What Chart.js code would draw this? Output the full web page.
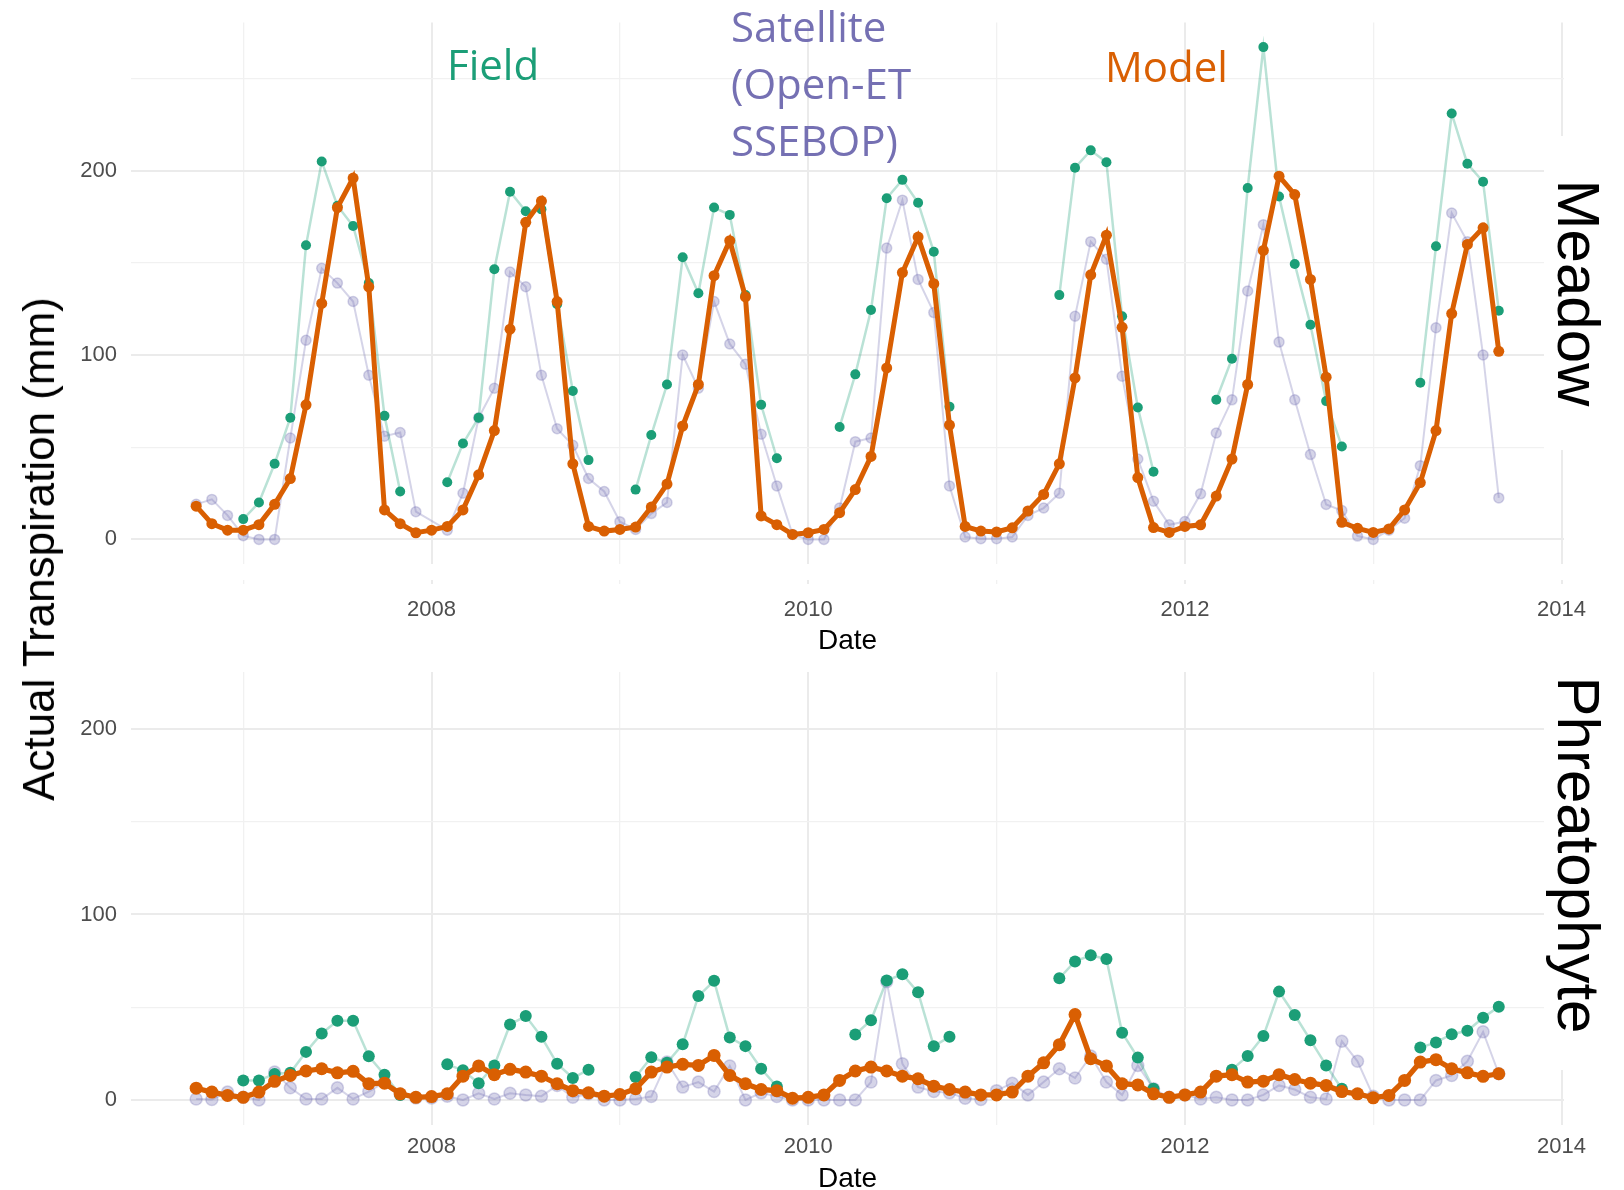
<!DOCTYPE html>
<html lang="en">
<head>
    <meta charset="UTF-8">
    <title>Actual Transpiration - Meadow / Phreatophyte</title>
    <script src="https://cdn.jsdelivr.net/npm/chart.js"></script>
    <style>
        html, body { margin: 0; padding: 0; background: #fff; overflow: hidden; }
        body { position: relative; width: 1624px; height: 1190px; }
        canvas { position: absolute; left: 0; }
        #topChart { top: 0; z-index: 3; }
        #bottomChart { top: 561px; z-index: 1; }
        .cover { position: absolute; background: #fff; }
        .label { position: absolute; white-space: nowrap; }
        .series { font-family: "Open Sans", sans-serif; font-size: 42px; line-height: 57px; }
        .strip { font-family: "Liberation Sans", Arial, sans-serif; font-size: 60px; color: #000;
                 transform: translate(-50%, -50%) rotate(90deg); }
        #ytitle { font-family: "Liberation Sans", Arial, sans-serif; font-size: 44px; color: #000;
                  left: 39px; top: 549px; transform: translate(-50%, -50%) rotate(-90deg); z-index: 5; }
    </style>
</head>
<body>
    <canvas id="bottomChart" width="1624" height="640"></canvas>
    <div class="cover" style="left:0; top:584px; width:1624px; height:88px; z-index:2;"></div>
    <canvas id="topChart" width="1624" height="665"></canvas>

    <!-- white boxes behind the facet labels -->
    <div class="cover" style="left:1544px; top:136px; width:80px; height:314px; z-index:4;"></div>
    <div class="cover" style="left:1544px; top:672px; width:80px; height:398px; z-index:4;"></div>
    <div class="label strip" style="left:1578px; top:293px; z-index:5;">Meadow</div>
    <div class="label strip" style="left:1578px; top:855px; z-index:5;">Phreatophyte</div>
    <div class="label" id="ytitle">Actual Transpiration (mm)</div>

    <div class="label series" style="left:447px; top:35px; color:#1b9e77; z-index:5;">Field</div>
    <div class="label series" style="left:731px; top:-3px; color:#7570b3; z-index:5;">Satellite<br>(Open-ET<br>SSEBOP)</div>
    <div class="label series" style="left:1105px; top:37px; color:#d95f02; z-index:5;">Model</div>

    <script>
        // monthly series, Oct 2006 .. Sep 2013 (one line per calendar year)
        const startYear = 2006;
        const startMonth = 10;

        const meadowModel = [
            18, 8.5, 5,
            5, 8, 19, 33, 73, 128, 180, 196, 137, 16, 8.5, 3.6,
            5, 7, 16, 35, 59, 114, 172, 183.5, 129, 41, 7, 4.5,
            5.4, 6.7, 17.5, 30, 61.5, 84, 143, 162, 131.5, 12.7, 8, 2.7,
            3.6, 5.4, 14.5, 27, 45, 93, 144.7, 164, 138.7, 62, 7, 4.5,
            4, 6.3, 15.4, 24.4, 41, 87.6, 143.5, 165, 115, 33.5, 6.4, 3.8,
            7, 7.9, 23.5, 43.6, 84, 156.7, 197, 187, 141, 88, 9.3, 6,
            3.8, 5.7, 16, 30.8, 59, 122.5, 160, 169, 102
        ];
        const meadowField = [
            null, null, null,
            11, 20, 41, 66, 159.5, 205, 181, 170, 139, 67, 26, null,
            null, 31, 52, 66, 146.5, 188.6, 178, 179, 127.5, 80.5, 43, null,
            null, 27, 56.6, 84, 153, 133.5, 180, 176, 132.5, 73, 44, null,
            null, null, 61, 89.5, 124.4, 185, 195, 182.6, 156, 72, null, null,
            null, null, null, null, 132.5, 201.6, 211, 204.6, 121, 71.5, 36.7, null,
            null, null, 75.7, 98, 190.6, 267, 186, 149.4, 116.4, 75, 50.4, null,
            null, null, null, 85, 159, 231, 203.7, 194, 124
        ];
        const meadowSatellite = [
            19, 21.7, 13,
            2, 0, 0, 55, 108, 147, 139, 129, 89, 56, 58, 15,
            null, 5, 25, 66, 82, 145, 137, 89, 60, 51, 33, 26,
            9.6, 5.4, 14, 20, 100, 82, 129, 106, 95, 57, 29, 2.7,
            0, 0, 17, 53, 55, 158, 184, 141, 123, 29, 1.3, 0.4,
            0.4, 1.3, 13, 17, 25, 121, 161.5, 152, 88.5, 43.6, 20.7, 7.9,
            9.7, 24.7, 57.7, 75.7, 134.7, 170.7, 107, 75.7, 46, 18.9, 15.6, 1.8,
            0, 5, 11.5, 40, 114.8, 177, 161.5, 100, 22.5
        ];

        const phreModel = [
            6.3, 4.2, 2.4,
            1.4, 4.2, 10, 13.2, 15.6, 16.8, 14.6, 15.4, 8.7, 9, 3.3, 1.4,
            1.8, 3.3, 12.8, 18.3, 13.6, 16.5, 15, 12.8, 8.7, 5, 3.8, 2,
            2.9, 6, 15, 17.7, 19.2, 18.6, 24, 13.2, 8.7, 5.6, 5, 0.9,
            1.4, 2.7, 10.5, 15.6, 17.7, 15.6, 12.8, 11.4, 7.4, 5.6, 4.2, 2.7,
            2.7, 4.2, 12.8, 20, 29.8, 46, 22.2, 18.3, 8.7, 8.1, 3.3, 1.4,
            2.7, 4.2, 12.8, 13.6, 9.6, 10.1, 13.6, 11, 9, 7.8, 4.5, 3.3,
            1.1, 2.4, 10.5, 20.4, 21.7, 16.8, 14.6, 12.7, 14.1
        ];
        const phreField = [
            null, null, null,
            10.5, 10.5, 14, 14.6, 25.9, 35.8, 42.7, 42.7, 23.5, 13.6, 2.7, null,
            null, 19.2, 16, 9, 18.6, 40.7, 45.2, 34, 19.5, 11.8, 16.3, null,
            null, 12.3, 23, 20, 30, 56, 64.2, 33.6, 29, 16.8, 7.2, null,
            null, null, null, 35.3, 43, 64.4, 67.8, 58, 29, 34, null, null,
            null, null, null, null, 65.6, 74.7, 78, 76, 36.2, 22.8, 6, null,
            null, null, null, 16.3, 23.7, 34.4, 58.4, 45.8, 32.2, 18.6, 6, null,
            null, null, null, 28.2, 31, 35.4, 37.3, 44.3, 50.3
        ];
        const phreSatellite = [
            0.5, 0.2, 4.2,
            1.4, 0, 15, 6.5, 0.5, 0.5, 6.5, 0.5, 4.5, 9.6, 3, 1,
            1, 2, 0, 3.6, 0.5, 3.6, 2.7, 2, 7.8, 1.4, 3.3, 0,
            0, 0.5, 1.8, 20.4, 6.9, 9.6, 4.5, 18.3, 0, 3.8, 1.8, 0,
            0, 0, 0, 0, 9.6, 63.8, 19.5, 6.9, 4.5, 3.8, 0.9, 0.2,
            5, 9, 2.7, 9.6, 16.8, 11.8, 23.7, 9.6, 2.7, 18.6, 6, 1.4,
            2.7, 0.5, 1.4, 0, 0, 2.7, 7.8, 5.6, 1.4, 0.5, 31.6, 20.8,
            2, 0, 0, 0, 10.5, 13.2, 20.8, 36.7, 14.1
        ];

        const yearTicks = [2008, 2010, 2012, 2014];
        const valueTicks = [0, 100, 200];

        const GREEN = '#1b9e77';
        const PURPLE = '117,112,179';
        const ORANGE = '#d95f02';

        Chart.defaults.font.family = '"Liberation Sans", Arial, sans-serif';

        // decimal year for month i of the series
        function toPoints(values) {
            return values.map((v, i) => ({ x: startYear + (startMonth - 1 + i) / 12, y: v }));
        }

        // fixed axis size, and no extra padding for half-labels
        function fixBox(s, w, h) {
            if (w !== null) s.width = w;
            if (h !== null) s.height = h;
            s.paddingTop = 0; s.paddingBottom = 0;
            s.paddingLeft = 0; s.paddingRight = 0;
        }

        function makePanel(id, model, field, sat, cfg) {
            const ctx = document.getElementById(id).getContext('2d');
            return new Chart(ctx, {
                type: 'line',
                data: {
                    datasets: [
                        {
                            label: 'Model', data: toPoints(model), order: 0,
                            borderColor: ORANGE, borderWidth: cfg.modelWidth,
                            pointBackgroundColor: ORANGE, pointBorderWidth: 0,
                            pointRadius: cfg.pointRadius + 0.5, tension: 0
                        },
                        {
                            label: 'Field', data: toPoints(field), order: 1,
                            borderColor: 'rgba(27,158,119,0.3)', borderWidth: 2.5,
                            pointBackgroundColor: GREEN, pointBorderWidth: 0,
                            pointRadius: cfg.pointRadius, tension: 0
                        },
                        {
                            label: 'Satellite', data: toPoints(sat), order: 2, spanGaps: true,
                            borderColor: 'rgba(' + PURPLE + ',0.3)', borderWidth: 2,
                            pointBackgroundColor: 'rgba(' + PURPLE + ',0.3)',
                            pointBorderColor: 'rgba(' + PURPLE + ',0.3)', pointBorderWidth: 1.5,
                            pointRadius: cfg.pointRadius, tension: 0
                        }
                    ]
                },
                options: {
                    responsive: false,
                    animation: false,
                    layout: { autoPadding: false, padding: { left: 0, right: 60, top: cfg.top, bottom: 0 } },
                    plugins: { legend: { display: false }, tooltip: { enabled: false } },
                    scales: {
                        x: {
                            type: 'linear', min: 2006.404, max: 2014.013,
                            afterFit: s => fixBox(s, null, cfg.xHeight),
                            border: { display: false },
                            grid: {
                                drawTicks: false,
                                color: c => yearTicks.includes(c.tick.value) ? '#ebebeb' : '#f1f1f1',
                                lineWidth: c => yearTicks.includes(c.tick.value) ? 2 : 1.3
                            },
                            ticks: {
                                stepSize: 1, includeBounds: false, autoSkip: false, maxRotation: 0,
                                padding: cfg.tickPad, color: '#4d4d4d', font: { size: 22 },
                                callback: v => yearTicks.includes(v) ? String(v) : ''
                            },
                            title: {
                                display: true, text: 'Date', color: '#000',
                                font: { size: 28 }, padding: { top: 0, bottom: cfg.titlePad }
                            }
                        },
                        y: {
                            min: -13.35, max: 280.35,
                            afterFit: s => fixBox(s, 131, null),
                            border: { display: false },
                            grid: {
                                drawTicks: false,
                                color: c => valueTicks.includes(c.tick.value) ? '#ebebeb' : '#f1f1f1',
                                lineWidth: c => valueTicks.includes(c.tick.value) ? 2 : 1.3
                            },
                            ticks: {
                                stepSize: 50, includeBounds: false,
                                padding: 14, color: '#4d4d4d', font: { size: 22 },
                                callback: v => valueTicks.includes(v) ? String(v) : ''
                            }
                        }
                    }
                }
            });
        }

        makePanel('topChart', meadowModel, meadowField, meadowSatellite,
            { top: 22.5, xHeight: 101, tickPad: 33, titlePad: 7, pointRadius: 5, modelWidth: 5 });
        makePanel('bottomChart', phreModel, phreField, phreSatellite,
            { top: 19.1, xHeight: 76.35, tickPad: 9, titlePad: 5, pointRadius: 6, modelWidth: 5.3 });
    </script>
</body>
</html>
